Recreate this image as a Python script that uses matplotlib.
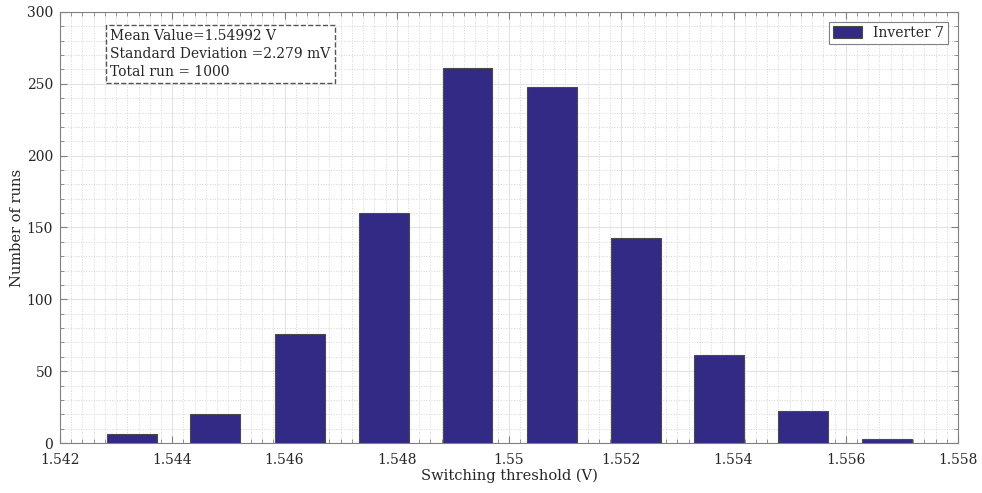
import numpy as np
import matplotlib
matplotlib.use('Agg')
import matplotlib.pyplot as plt
from matplotlib.ticker import MultipleLocator

# ---------------------- Data
bin_centers = [1.54328, 1.54477, 1.54627, 1.54777, 1.54926,
               1.55076, 1.55226, 1.55374, 1.55524, 1.55674]
counts = [6, 20, 76, 160, 261, 248, 143, 61, 22, 3]
bar_width = 0.00089
xticks = [1.542, 1.544, 1.546, 1.548, 1.55, 1.552, 1.554, 1.556, 1.558]
xticklabels = ['1.542', '1.544', '1.546', '1.548', '1.55', '1.552', '1.554', '1.556', '1.558']
stats_text = 'Mean Value=1.54992 V\nStandard Deviation =2.279 mV\nTotal run = 1000'

plt.rcParams['font.family'] = ['DejaVu Serif']
txt = '#262626'

fig = plt.figure(figsize=(9.82, 4.93), dpi=100)
ax = fig.add_axes([0.0611, 0.1014, 0.9145, 0.8743])

ax.bar(bin_centers, counts, width=bar_width, color='#332a86',
       edgecolor='#4a4a4a', linewidth=0.8, label='Inverter 7', zorder=3)

ax.set_xlim(1.542, 1.558)
ax.set_ylim(0, 300)
ax.set_xticks(xticks)
ax.set_xticklabels(xticklabels)
ax.xaxis.set_minor_locator(MultipleLocator(0.0002))
ax.yaxis.set_major_locator(MultipleLocator(50))
ax.yaxis.set_minor_locator(MultipleLocator(10))

ax.grid(which='major', color='#e3e3e3', linewidth=0.8, zorder=0)
ax.grid(which='minor', color='#d4d4d4', linestyle=':', linewidth=0.7, zorder=0)
ax.set_axisbelow(True)

ax.tick_params(which='both', direction='in', top=True, right=True,
               colors='#808080', labelcolor=txt, labelsize=10)
ax.tick_params(which='major', length=5)
ax.tick_params(which='minor', length=3)
ax.tick_params(axis='x', which='major', pad=7)
ax.tick_params(axis='y', which='major', pad=5)
for s in ax.spines.values():
    s.set_color('#808080')
    s.set_linewidth(0.8)

ax.set_xlabel('Switching threshold (V)', fontsize=10.5, color=txt, labelpad=1)
ax.set_ylabel('Number of runs', fontsize=10.5, color=txt, labelpad=2)

ax.text(0.056, 0.96, stats_text, transform=ax.transAxes, fontsize=10,
        color=txt, va='top', ha='left', linespacing=1.35, zorder=5,
        bbox=dict(boxstyle='square,pad=0.3', facecolor='white',
                  edgecolor='#555555', linestyle='--', linewidth=1))

leg = ax.legend(loc='upper right', fontsize=10, fancybox=False,
                framealpha=1, edgecolor='#808080', borderpad=0.3,
                handlelength=2.1, handleheight=1.0, borderaxespad=0.7)
for t in leg.get_texts():
    t.set_color(txt)
leg.get_frame().set_linewidth(0.8)

plt.savefig('out.png', dpi=100)
